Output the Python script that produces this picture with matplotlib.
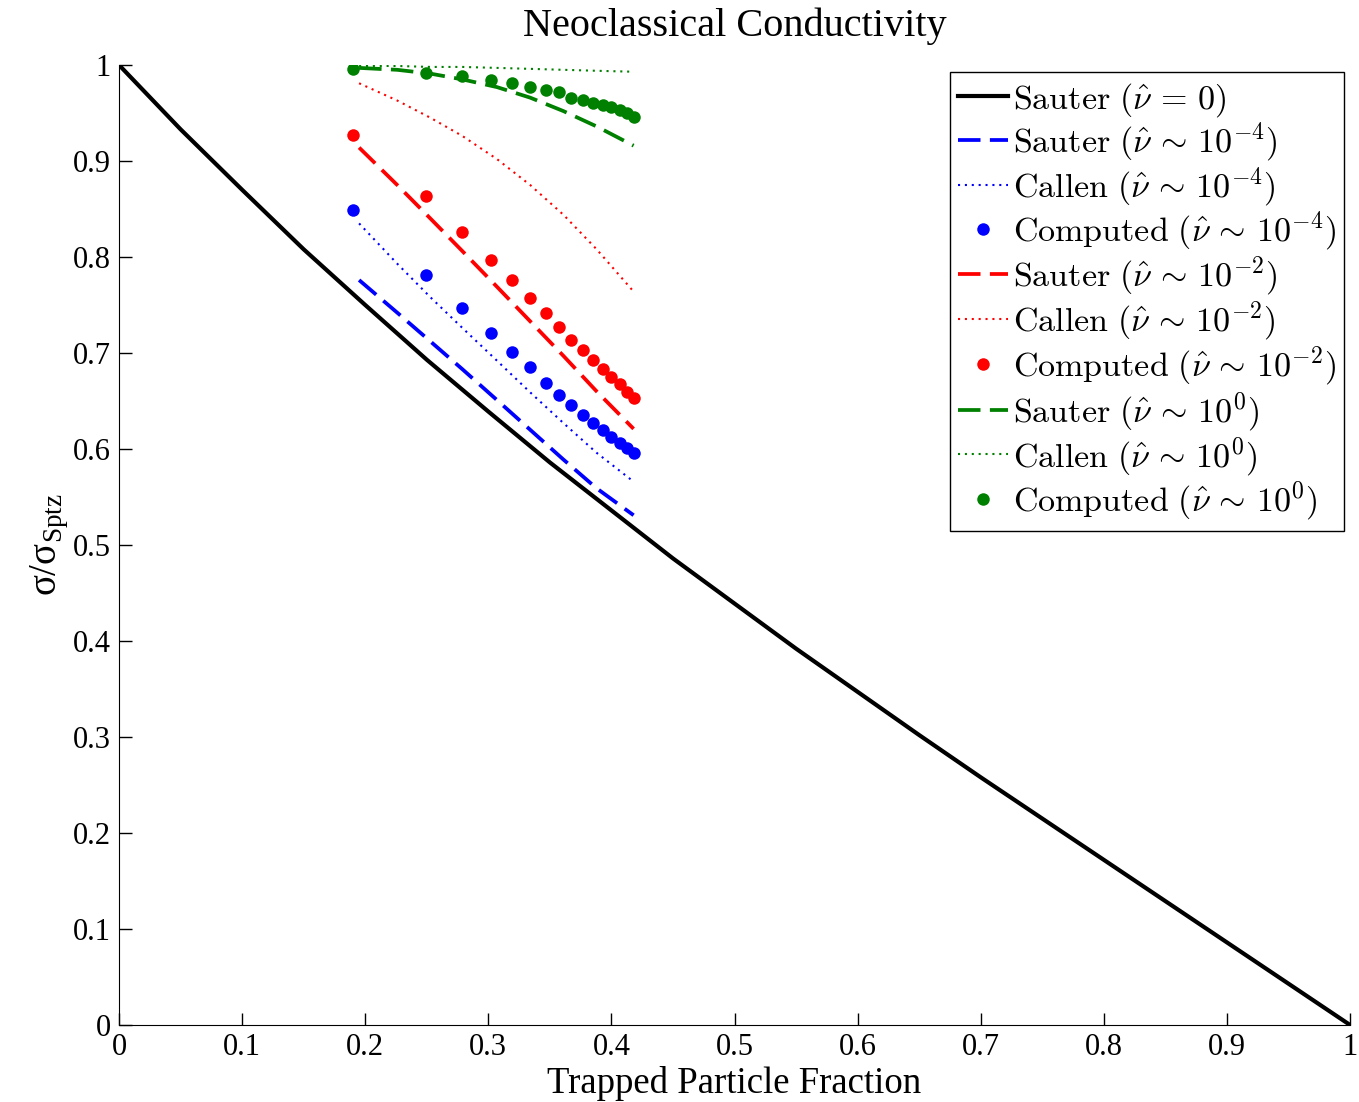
import matplotlib
matplotlib.use("Agg")
import matplotlib.pyplot as plt

plt.rcParams["font.family"] = ["Liberation Serif", "DejaVu Serif"]
plt.rcParams["mathtext.fontset"] = "cm"
plt.rcParams["mathtext.rm"] = "Liberation Serif"

# Sauter, collisionless limit
f_sauter0 = [0.0, 0.05, 0.1, 0.15, 0.2, 0.25, 0.3, 0.35, 0.4, 0.45, 0.5,
             0.55, 0.6, 0.65, 0.7, 0.75, 0.8, 0.85, 0.9, 0.95, 1.0]
s_sauter0 = [1.0, 0.933, 0.870, 0.808, 0.750, 0.693, 0.639, 0.586, 0.536, 0.486, 0.439,
             0.392, 0.347, 0.302, 0.258, 0.215, 0.172, 0.129, 0.086, 0.043, 0.0]

# trapped fractions of the computed points (same for every collisionality)
f_comp = [0.190, 0.249, 0.279, 0.302, 0.319, 0.334, 0.347, 0.357,
          0.367, 0.377, 0.385, 0.393, 0.400, 0.407, 0.413, 0.418]
comp_m4 = [0.849, 0.781, 0.747, 0.721, 0.701, 0.685, 0.669, 0.656,
           0.646, 0.635, 0.627, 0.620, 0.612, 0.606, 0.601, 0.596]
comp_m2 = [0.927, 0.864, 0.826, 0.797, 0.776, 0.757, 0.742, 0.727,
           0.714, 0.703, 0.693, 0.683, 0.675, 0.668, 0.659, 0.653]
comp_0 = [0.996, 0.992, 0.989, 0.984, 0.981, 0.977, 0.974, 0.972,
          0.966, 0.964, 0.960, 0.958, 0.956, 0.953, 0.950, 0.946]

# analytic fits on the same range
f_fit = [0.195, 0.226, 0.253, 0.279, 0.307, 0.334, 0.361, 0.388, 0.418]
sauter_m4 = [0.776, 0.742, 0.712, 0.683, 0.651, 0.620, 0.589, 0.559, 0.531]
callen_m4 = [0.835, 0.793, 0.758, 0.726, 0.692, 0.659, 0.627, 0.596, 0.566]
sauter_m2 = [0.914, 0.875, 0.840, 0.806, 0.769, 0.733, 0.697, 0.660, 0.621]
callen_m2 = [0.981, 0.963, 0.945, 0.926, 0.902, 0.875, 0.844, 0.808, 0.764]
sauter_0 = [0.997, 0.995, 0.991, 0.985, 0.977, 0.966, 0.952, 0.936, 0.916]
callen_0 = [0.999, 0.999, 0.998, 0.998, 0.997, 0.996, 0.995, 0.994, 0.993]

fig = plt.figure(figsize=(13.59, 11.02), dpi=100)
ax = fig.add_axes([0.0876, 0.0699, 0.9058, 0.8711])

dash = (6, 2.5)
dot = (1, 2.3)


def nu_label(name, rel):
    return r"$\mathrm{%s}\ (\hat{\nu}\,%s)$" % (name, rel)


ax.plot(f_sauter0, s_sauter0, color="k", lw=3.0,
        label=nu_label("Sauter", r"=\,0"))
ax.plot(f_fit, sauter_m4, color="b", lw=2.7, dashes=dash,
        label=nu_label("Sauter", r"\sim\,10^{-4}"))
ax.plot(f_fit, callen_m4, color="b", lw=1.5, dashes=dot,
        label=nu_label("Callen", r"\sim\,10^{-4}"))
ax.plot(f_comp, comp_m4, "o", color="b", ms=9, mec="none",
        label=nu_label("Computed", r"\sim\,10^{-4}"))
ax.plot(f_fit, sauter_m2, color="r", lw=2.7, dashes=dash,
        label=nu_label("Sauter", r"\sim\,10^{-2}"))
ax.plot(f_fit, callen_m2, color="r", lw=1.5, dashes=dot,
        label=nu_label("Callen", r"\sim\,10^{-2}"))
ax.plot(f_comp, comp_m2, "o", color="r", ms=9, mec="none",
        label=nu_label("Computed", r"\sim\,10^{-2}"))
ax.plot(f_fit, sauter_0, color="g", lw=2.7, dashes=dash,
        label=nu_label("Sauter", r"\sim\,10^{0}"))
ax.plot(f_fit, callen_0, color="g", lw=1.5, dashes=dot,
        label=nu_label("Callen", r"\sim\,10^{0}"))
ax.plot(f_comp, comp_0, "o", color="g", ms=9, mec="none",
        label=nu_label("Computed", r"\sim\,10^{0}"))

ax.set_xlim(0, 1)
ax.set_ylim(0, 1)
ticks = [i / 10 for i in range(11)]
tick_text = ["0", "0.1", "0.2", "0.3", "0.4", "0.5", "0.6", "0.7", "0.8", "0.9", "1"]
ax.set_xticks(ticks)
ax.set_yticks(ticks)
ax.set_xticklabels(tick_text)
ax.set_yticklabels(tick_text)
ax.tick_params(direction="in", length=9, width=1, labelsize=22, pad=6)
ax.spines["top"].set_visible(False)
ax.spines["right"].set_visible(False)

ax.set_title("Neoclassical Conductivity", fontsize=29, pad=21)
ax.set_xlabel("Trapped Particle Fraction", fontsize=26.5, labelpad=3)
ax.set_ylabel(r"σ/σ$_{\mathrm{Sptz}}$", fontsize=28, labelpad=2,
              math_fontfamily="custom")

leg = ax.legend(loc="upper right", bbox_to_anchor=(0.9955, 0.9925), fontsize=24.5,
                fancybox=False, framealpha=1, edgecolor="k", handlelength=1.45,
                handletextpad=0.15, labelspacing=0.05, borderpad=0.25,
                borderaxespad=0)
leg.get_frame().set_linewidth(1.0)

fig.savefig("out.png", dpi=100)
